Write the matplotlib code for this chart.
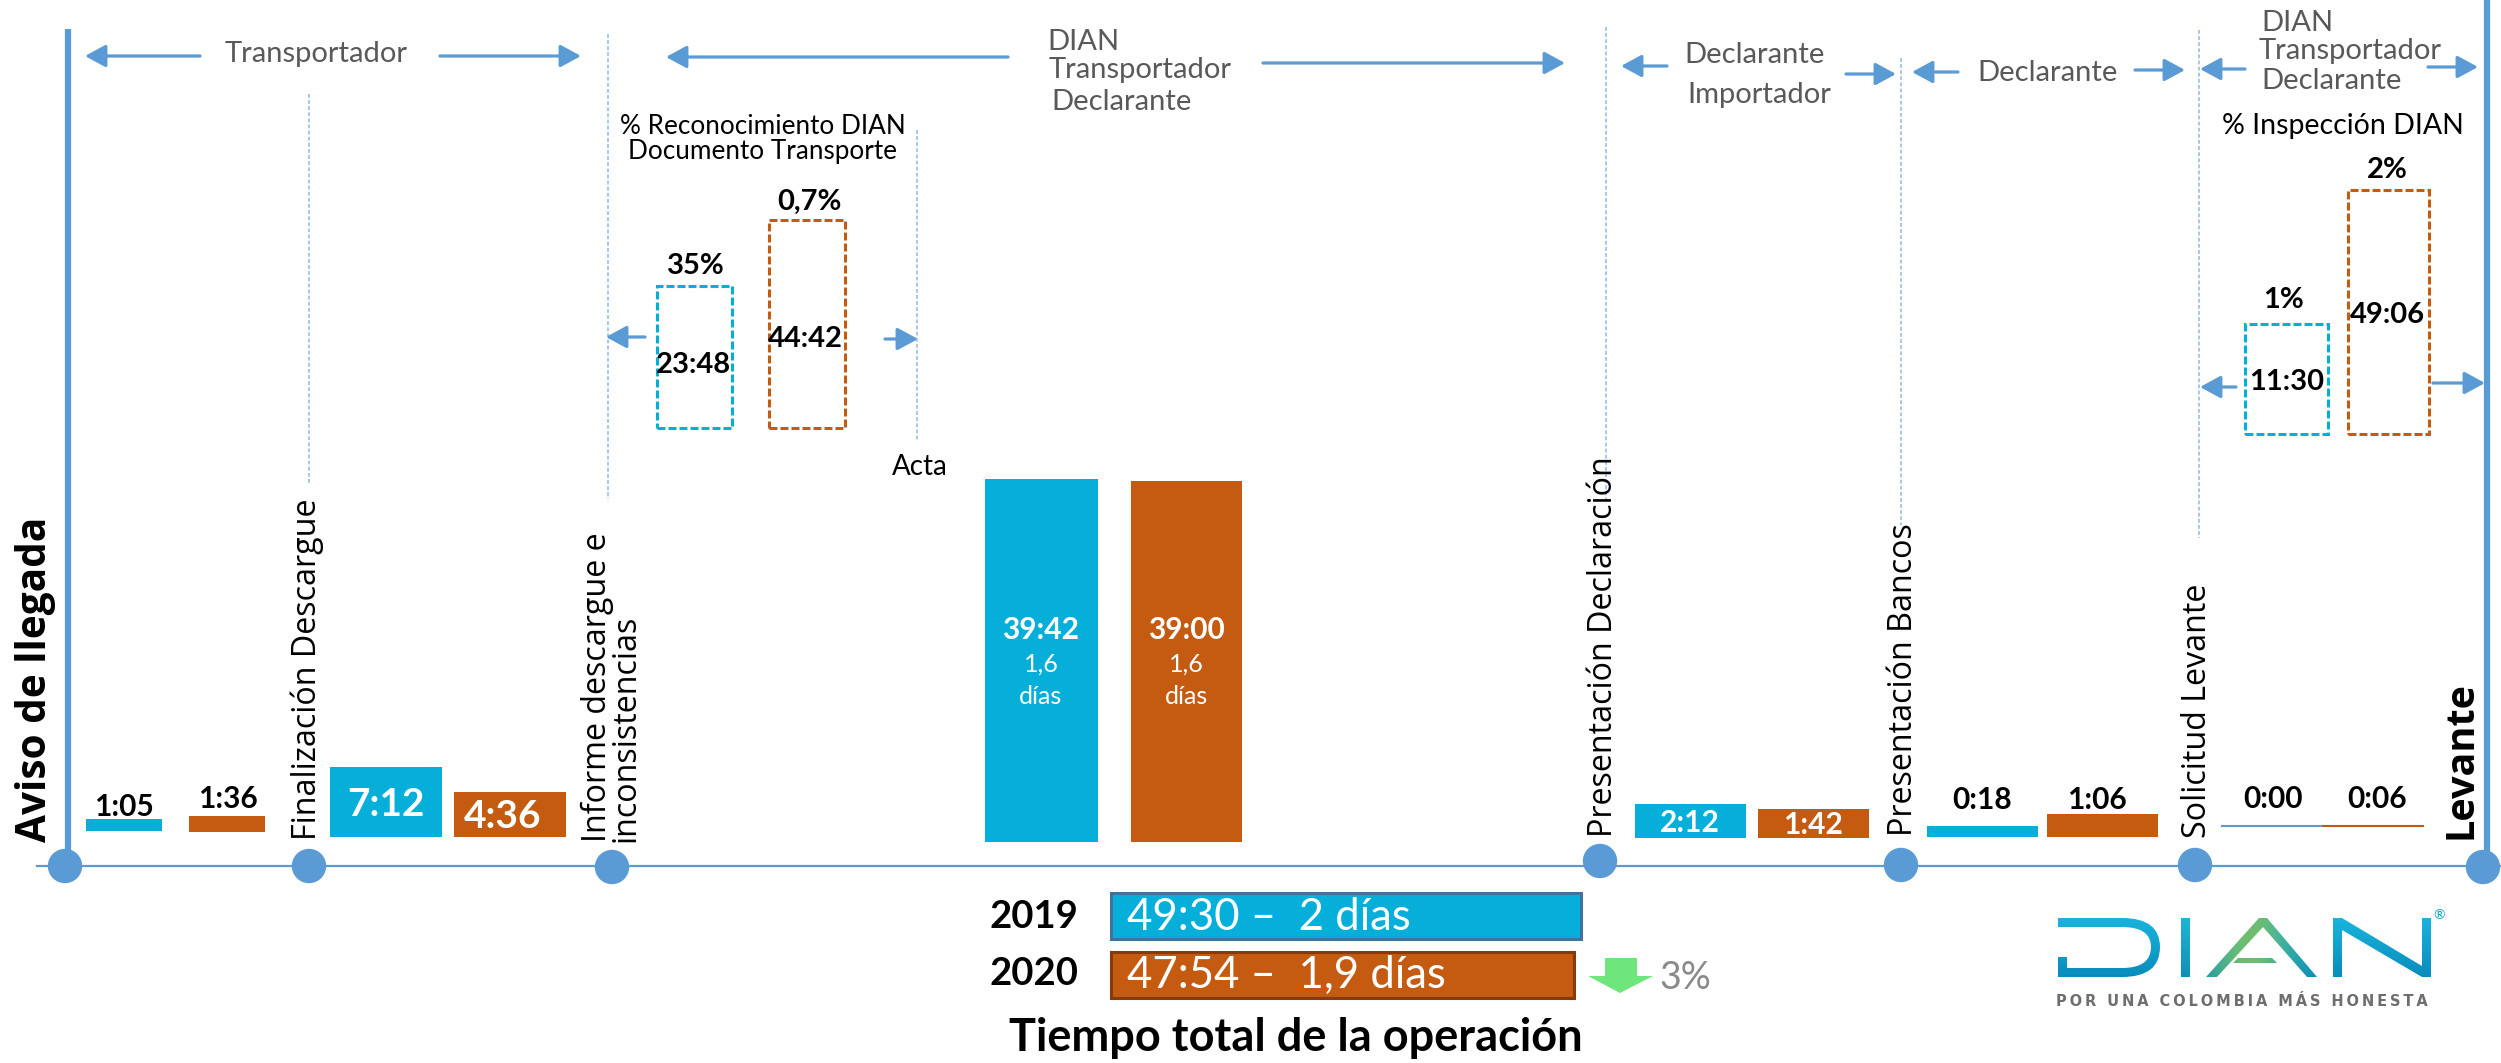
import matplotlib
matplotlib.use('Agg')
import matplotlib.pyplot as plt
import numpy as np
from matplotlib.patches import Ellipse, PathPatch, Polygon
from matplotlib.path import Path

# etiquetas de tiempo (horas:minutos) por tramo
etapas = ['Finalización Descargue', 'Informe descargue e\ninconsistencias', 'Presentación Declaración',
          'Presentación Bancos', 'Solicitud Levante']
tiempo_2019 = ['1:05', '7:12', '39:42', '2:12', '0:18', '0:00']
tiempo_2020 = ['1:36', '4:36', '39:00', '1:42', '1:06', '0:06']

# largo de las barras (horas a escala del dibujo)
barra_2019 = [1.3, 7.65, 39.7, 3.7, 1.2, 0.0]
barra_2020 = [1.75, 4.9, 39.5, 3.2, 2.5, 0.1]

# recuadros punteados: reconocimiento e inspeccion
punteado_2019 = [28.4, 22.0]
punteado_2020 = [41.6, 48.8]
punteado_tiempo_2019 = ['23:48', '11:30']
punteado_tiempo_2020 = ['44:42', '49:06']
punteado_pct_2019 = ['35%', '1%']
punteado_pct_2020 = ['0,7%', '2%']

# tiempo total
anios = ['2019', '2020']
total_barra = [49.0, 48.2]
total_texto = ['49:30 –  2 días', '47:54 –  1,9 días']

AZUL = '#05AFD9'
NARANJA = '#C55A11'
LINEA = '#5B9BD5'
GRIS = '#595959'
plt.rcParams['font.family'] = ['Lato', 'DejaVu Sans']

fig = plt.figure(figsize=(25.01, 10.63), dpi=100)
ax = fig.add_axes([0, 0, 1, 1])
ax.set_xlim(0, 2501)
ax.set_ylim(1063, 0)
ax.axis('off')

ESCALA = 9.15
ESCALA_P = 5.0
ESCALA_T = 9.6


def flecha(x0, x1, y):
    ax.annotate('', xy=(x1, y), xytext=(x0, y),
                arrowprops=dict(arrowstyle='-|>,head_length=0.7,head_width=0.38', color=LINEA, lw=2.3,
                                shrinkA=0, shrinkB=0, mutation_scale=18))


def punteada(x, y0, y1):
    ax.plot([x, x], [y0, y1], color='#8DB8E2', lw=1.1, ls=(0, (2.5, 1.5)), zorder=1)


# lineas base y verticales
ax.plot([37, 2501], [866, 866], color=LINEA, lw=1.6, zorder=1)
ax.plot([68, 68], [29, 860], color=LINEA, lw=4.5, solid_capstyle='butt', zorder=1)
ax.plot([2487, 2487], [0, 860], color=LINEA, lw=4.5, solid_capstyle='butt', zorder=1)

for cx, cy in zip([65, 309, 612, 1600, 1901, 2195, 2483], [866, 866, 867, 861, 865, 865, 867]):
    ax.add_patch(Ellipse((cx, cy), 33, 33, color=LINEA, zorder=2))

punteada(309, 94, 484)
punteada(608, 34, 499)
punteada(917, 130, 440)
punteada(1606, 27, 500)
punteada(1901, 58, 525)
punteada(2199, 30, 538)

# flechas de responsables
for x0, x1, y in [(200, 85, 56), (440, 581, 56), (1008, 666, 57), (1263, 1565, 63), (1667, 1621, 66),
                  (1846, 1896, 74), (1958, 1912, 72), (2135, 2185, 70), (2245, 2200, 69), (2428, 2478, 67),
                  (645, 606, 337), (885, 918, 339), (2236, 2200, 387), (2433, 2485, 383)]:
    flecha(x0, x1, y)

resp = dict(color=GRIS, fontsize=21, va='center')
ax.text(316, 54, 'Transportador', ha='center', **resp)
ax.text(1083, 42, 'DIAN', ha='center', **resp)
ax.text(1140, 70, 'Transportador', ha='center', **resp)
ax.text(1122, 102, 'Declarante', ha='center', **resp)
ax.text(1755, 55, 'Declarante', ha='center', **resp)
ax.text(1759, 95, 'Importador', ha='center', **resp)
ax.text(2048, 73, 'Declarante', ha='center', **resp)
ax.text(2261, 23, 'DIAN', ha='left', **resp)
ax.text(2259, 51, 'Transportador', ha='left', **resp)
ax.text(2261, 81, 'Declarante', ha='left', **resp)

ax.text(763, 127, '% Reconocimiento DIAN', ha='center', va='center', fontsize=18.8, color='black')
ax.text(763, 152, 'Documento Transporte', ha='center', va='center', fontsize=18.8, color='black')
ax.text(2343, 126, '% Inspección DIAN', ha='center', va='center', fontsize=20.5, color='black')
ax.text(920, 467, 'Acta', ha='center', va='center', fontsize=20, color='black')

# recuadros punteados
cx_p19 = [694.5, 2286.5]
cx_p20 = [807, 2388]
ancho_p19 = [75, 83]
ancho_p20 = [76, 81]
base_p = [428, 434]
txt_p19 = [(693, 365), (2287, 382)]
txt_p20 = [(805, 339), (2387, 315)]
pct_p19 = [(696, 266), (2284, 300)]
pct_p20 = [(809, 202), (2387, 170)]
for i in range(2):
    ax.bar(cx_p19[i], -punteado_2019[i] * ESCALA_P, ancho_p19[i], bottom=base_p[i], facecolor='none',
           edgecolor='#00B0D8', lw=2.2, ls=(0, (2.6, 1.0)))
    ax.bar(cx_p20[i], -punteado_2020[i] * ESCALA_P, ancho_p20[i], bottom=base_p[i], facecolor='none',
           edgecolor=NARANJA, lw=2.2, ls=(0, (2.6, 1.0)))
    b = dict(ha='center', va='center', fontsize=21, fontweight='bold', color='black')
    ax.text(*txt_p19[i], punteado_tiempo_2019[i], **b)
    ax.text(*txt_p20[i], punteado_tiempo_2020[i], **b)
    ax.text(*pct_p19[i], punteado_pct_2019[i], **b)
    ax.text(*pct_p20[i], punteado_pct_2020[i], **b)

# barras principales
cx19 = [124, 386, 1041, 1690.5, 1982.5, 2272]
cx20 = [227, 510, 1186.5, 1813.5, 2102.5, 2373]
ancho19 = [76, 112, 113, 111, 111, 100]
ancho20 = [76, 112, 111, 111, 111, 100]
base19 = [831, 837, 842, 838, 837, 826]
base20 = [832, 837, 842, 838, 837, 826]
for i in range(6):
    ax.bar(cx19[i], -barra_2019[i] * ESCALA, ancho19[i], bottom=base19[i], color=AZUL, zorder=3)
    ax.bar(cx20[i], -barra_2020[i] * ESCALA, ancho20[i], bottom=base20[i], color=NARANJA, zorder=3)

# linea delgada de la ultima pareja
ax.plot([2222, 2322], [826, 826], color=LINEA, lw=1.5, zorder=3)
ax.plot([2323, 2423], [826, 826], color=NARANJA, lw=1.5, zorder=3)

pos19 = [(124, 807, 'black', 21.5), (386, 804, 'white', 28), (1041, 630, 'white', 21.5), (1690, 823, 'white', 21.5),
         (1982, 800, 'black', 21.5), (2273, 799, 'black', 21.5)]
pos20 = [(228, 799, 'black', 21.5), (503, 817, 'white', 28), (1186, 630, 'white', 21.5), (1813, 825, 'white', 21.5),
         (2097, 800, 'black', 21.5), (2377, 799, 'black', 21.5)]
for i in range(6):
    x, y, c, s = pos19[i]
    ax.text(x, y, tiempo_2019[i], ha='center', va='center', color=c, fontsize=s, fontweight='bold', zorder=4)
    x, y, c, s = pos20[i]
    ax.text(x, y, tiempo_2020[i], ha='center', va='center', color=c, fontsize=s, fontweight='bold', zorder=4)

for x in [1041, 1186]:
    ax.text(x, 664, '1,6', ha='center', va='center', color='white', fontsize=18, zorder=4)
    ax.text(x, 696, 'días', ha='center', va='center', color='white', fontsize=18, zorder=4)

# rotulos verticales
rot = dict(rotation=90, ha='center', va='bottom', color='black', family='Open Sans')
ax.text(36, 842, 'Aviso de llegada', fontsize=29.2, fontweight='bold', **rot)
ax.text(2461, 839, 'Levante', fontsize=28.5, fontweight='bold', **rot)
x_et = [307, 597, 1604, 1904, 2198]
y_et = [840, 842, 837, 836, 838]
for i, nombre in enumerate(etapas):
    if '\n' in nombre:
        l1, l2 = nombre.split('\n')
        ax.text(x_et[i], y_et[i], l1, fontsize=23.2, **rot)
        ax.text(x_et[i] + 29, y_et[i], l2, fontsize=23.2, **rot)
    else:
        ax.text(x_et[i], y_et[i], nombre, fontsize=23.2, **rot)

# tiempo total de la operacion
y_tot = [916, 974.5]
y_anio = [917, 974]
col_tot = [AZUL, NARANJA]
borde_tot = ['#41719C', '#843C0C']
for i in range(2):
    ax.barh(y_tot[i], total_barra[i] * ESCALA_T, 46, left=1111, color=col_tot[i], edgecolor=borde_tot[i], lw=2.2)
    ax.text(1034, y_anio[i], anios[i], ha='center', va='center', fontsize=27.5, fontweight='bold', color='black')
    ax.text(1127, y_tot[i] + 1, total_texto[i], ha='left', va='center', fontsize=31.5, color='white')
ax.text(1296, 1038, 'Tiempo total de la operación', ha='center', va='center', fontsize=32.5, fontweight='bold',
        color='black')

# flecha verde y 3%
ax.add_patch(Polygon([(1605, 958), (1637, 958), (1637, 976), (1653, 976), (1620, 993), (1588, 976), (1605, 976)],
                     closed=True, color='#6EE67C', lw=0))
ax.text(1685, 978, '3%', ha='center', va='center', fontsize=27, color='#8A8A8A')

# logo: letras como silueta, rellenas con un degradado azul-verde
c = [Path.MOVETO, Path.LINETO, Path.LINETO, Path.LINETO, Path.CLOSEPOLY]
letras = [
    Path([(2058, 918), (2122, 918), (2160, 918), (2160, 947), (2160, 977), (2122, 977), (2058, 977), (2058, 957),
          (2067, 957), (2067, 968), (2122, 968), (2151, 968), (2151, 947), (2151, 927), (2122, 927), (2058, 927),
          (2058, 918)],
         [Path.MOVETO, Path.LINETO, Path.CURVE3, Path.CURVE3, Path.CURVE3, Path.CURVE3, Path.LINETO, Path.LINETO,
          Path.LINETO, Path.LINETO, Path.LINETO, Path.CURVE3, Path.CURVE3, Path.CURVE3, Path.CURVE3, Path.LINETO,
          Path.CLOSEPOLY]),
    Path([(2181, 918), (2190, 918), (2190, 977), (2181, 977), (2181, 918)], c),
    Path([(2206, 977), (2259, 918), (2267, 918), (2317, 977), (2307, 977), (2263, 927), (2217, 977), (2206, 977)],
         [Path.MOVETO] + [Path.LINETO] * 6 + [Path.CLOSEPOLY]),
    Path([(2238, 958), (2272, 958), (2277, 963), (2233, 963), (2238, 958)], c),
    Path([(2333, 977), (2333, 918), (2342, 918), (2422, 966), (2422, 918), (2431, 918), (2431, 977), (2422, 977),
          (2342, 930), (2342, 977), (2333, 977)],
         [Path.MOVETO] + [Path.LINETO] * 9 + [Path.CLOSEPOLY]),
]
logo = PathPatch(Path.make_compound_path(*letras), transform=ax.transData, fc='none', lw=0)
ax.add_patch(logo)
fila = np.linspace(0, 1, 60)
col = np.linspace(2055, 2432, 380)
verde = np.exp(-((col - 2250) / 40.0) ** 2)[None, :, None]
arriba = np.array([26, 182, 222]) / 255
abajo = np.array([8, 138, 186]) / 255
azul_g = arriba[None, None, :] + (abajo - arriba)[None, None, :] * fila[:, None, None]
verde_g = np.array([110, 190, 110])[None, None, :] / 255
img = azul_g * (1 - verde) + verde_g * verde
im = ax.imshow(img, extent=(2055, 2432, 980, 915), aspect='auto', zorder=3)
im.set_clip_path(logo)
ax.set_xlim(0, 2501)
ax.set_ylim(1063, 0)
ax.text(2439, 915, '®', ha='center', va='center', fontsize=10, color='#0AA5CE')
ax.text(2242, 1002, '\u2009'.join('POR UNA COLOMBIA MÁS HONESTA'), ha='center', va='center', fontsize=10.5,
        fontweight='bold', color='#6E6E6E', family='DejaVu Sans')

fig.savefig('out.png', dpi=100)
